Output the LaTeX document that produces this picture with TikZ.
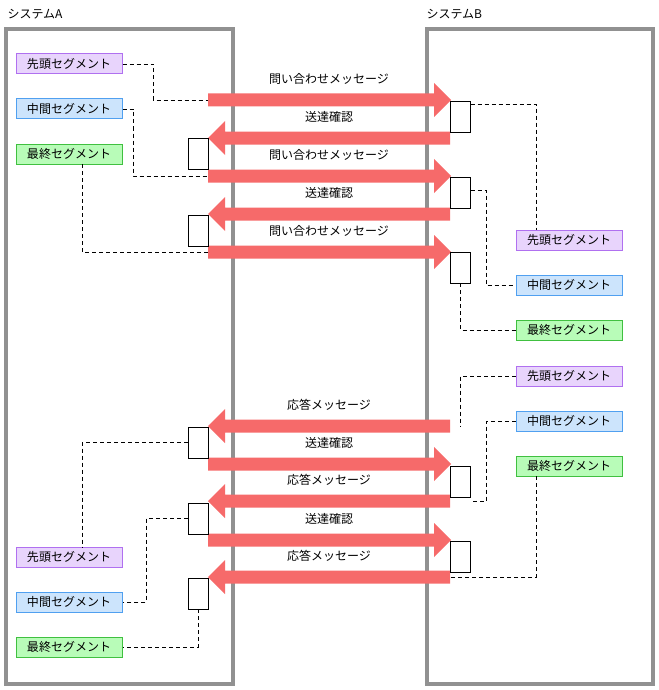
\documentclass[tikz,border=0pt]{standalone}
\usepackage{fontspec}
\setmainfont{Noto Sans CJK JP}
\begin{document}
\begin{tikzpicture}[x=1pt,y=-1pt,
  sys/.style={draw=black!43,line width=4pt},
  seg/.style={draw,line width=1pt,minimum width=106pt,minimum height=20pt,inner sep=0pt,font=\fontsize{12}{12}\selectfont},
  sa/.style={seg,draw=violet!55!white,fill=violet!15},
  sb/.style={seg,draw=blue!55!cyan!70!white,fill=cyan!15!blue!15},
  sc/.style={seg,draw=green!70!black,fill=green!27},
  act/.style={draw,fill=white,minimum width=20pt,minimum height=31pt,inner sep=0pt},
  dl/.style={dashed,dash pattern=on 4pt off 3pt,line width=0.7pt},
  lab/.style={font=\fontsize{12}{12}\selectfont},
  arr/.style={fill=red!55!white!100,draw=none}]
\useasboundingbox (0,0) rectangle (658,690);
\definecolor{ar}{HTML}{F66A6A}
\definecolor{pf}{HTML}{E8D4FC}\definecolor{pd}{HTML}{B070F0}
\definecolor{bf}{HTML}{CCE4FC}\definecolor{bd}{HTML}{50A0F0}
\definecolor{gf}{HTML}{B8FCB8}\definecolor{gd}{HTML}{40C040}
\tikzset{sa/.style={seg,draw=pd,fill=pf},sb/.style={seg,draw=bd,fill=bf},sc/.style={seg,draw=gd,fill=gf}}
\draw[sys] (6,29) rectangle (233,684);
\draw[sys] (427,29) rectangle (653,684);
\node[lab,anchor=west] (tA) at (4,14) {システムA};
\node[lab,anchor=west] (tB) at (423,14) {システムB};
% arrows
\newcommand\Rarr[2]{\fill[ar] (208,#1-6.5) -- (434,#1-6.5) -- (434,#1-17) -- (451,#1) -- (434,#1+17) -- (434,#1+6.5) -- (208,#1+6.5) -- cycle;
 \node[lab] at (329,#1-21) {#2};}
\newcommand\Larr[2]{\fill[ar] (450,#1-6.5) -- (225,#1-6.5) -- (225,#1-17) -- (208,#1) -- (225,#1+17) -- (225,#1+6.5) -- (450,#1+6.5) -- cycle;
 \node[lab] at (329,#1-21) {#2};}
\Rarr{100}{問い合わせメッセージ}
\Larr{138}{送達確認}
\Rarr{176}{問い合わせメッセージ}
\Larr{214}{送達確認}
\Rarr{252}{問い合わせメッセージ}
\Larr{426}{応答メッセージ}
\Rarr{464}{送達確認}
\Larr{501}{応答メッセージ}
\Rarr{540}{送達確認}
\Larr{577}{応答メッセージ}
% segments
\node[sa] (la1) at (69,64) {先頭セグメント};
\node[sb] (lb1) at (69,109) {中間セグメント};
\node[sc] (lc1) at (69,154) {最終セグメント};
\node[sa] (ra1) at (569,240) {先頭セグメント};
\node[sb] (rb1) at (569,285) {中間セグメント};
\node[sc] (rc1) at (569,330) {最終セグメント};
\node[sa] (ra2) at (569,376) {先頭セグメント};
\node[sb] (rb2) at (569,421) {中間セグメント};
\node[sc] (rc2) at (569,466) {最終セグメント};
\node[sa] (la2) at (69,557) {先頭セグメント};
\node[sb] (lb2) at (69,602) {中間セグメント};
\node[sc] (lc2) at (69,647) {最終セグメント};
% activation boxes
\node[act] (L1) at (198,153.5) {};
\node[act] (L2) at (198,230.5) {};
\node[act] (R1) at (460.5,116.5) {};
\node[act] (R2) at (460.5,192.5) {};
\node[act] (R3) at (460.5,267.5) {};
\node[act] (L3) at (198,442.5) {};
\node[act] (L4) at (198,518.5) {};
\node[act] (L5) at (198,593.5) {};
\node[act] (R4) at (460.5,481.5) {};
\node[act] (R5) at (460.5,556.5) {};
\coordinate (a1) at (208,100);
\coordinate (a2) at (208,176);
\coordinate (a3) at (208,252);
\coordinate (b1) at (460,426);
\coordinate (b2) at (486,501);
\coordinate (b3) at (450,577);
% dashed
\draw[dl] (la1.east) -- (153,64) |- (a1);
\draw[dl] (lb1.east) -- (133,109) |- (a2);
\draw[dl] (82,164) |- (a3);
\draw[dl] (R1.east|-0,104) -| (ra1.north-|536,0);
\draw[dl] (R2.east|-0,190) -- (486,190) |- (rb1.west);
\draw[dl] (R3.south) |- (rc1.west);
\draw[dl] (ra2.west) -| (b1);
\draw[dl] (rb2.west) -| (b2) -- (R4.east|-b2);
\draw[dl] (536,476) |- (b3);
\draw[dl] (L3.west) -| (82,547);
\draw[dl] (L4.west) -- (146,518.5) |- (lb2.east);
\draw[dl] (L5.south) |- (lc2.east);
\end{tikzpicture}
\end{document}
